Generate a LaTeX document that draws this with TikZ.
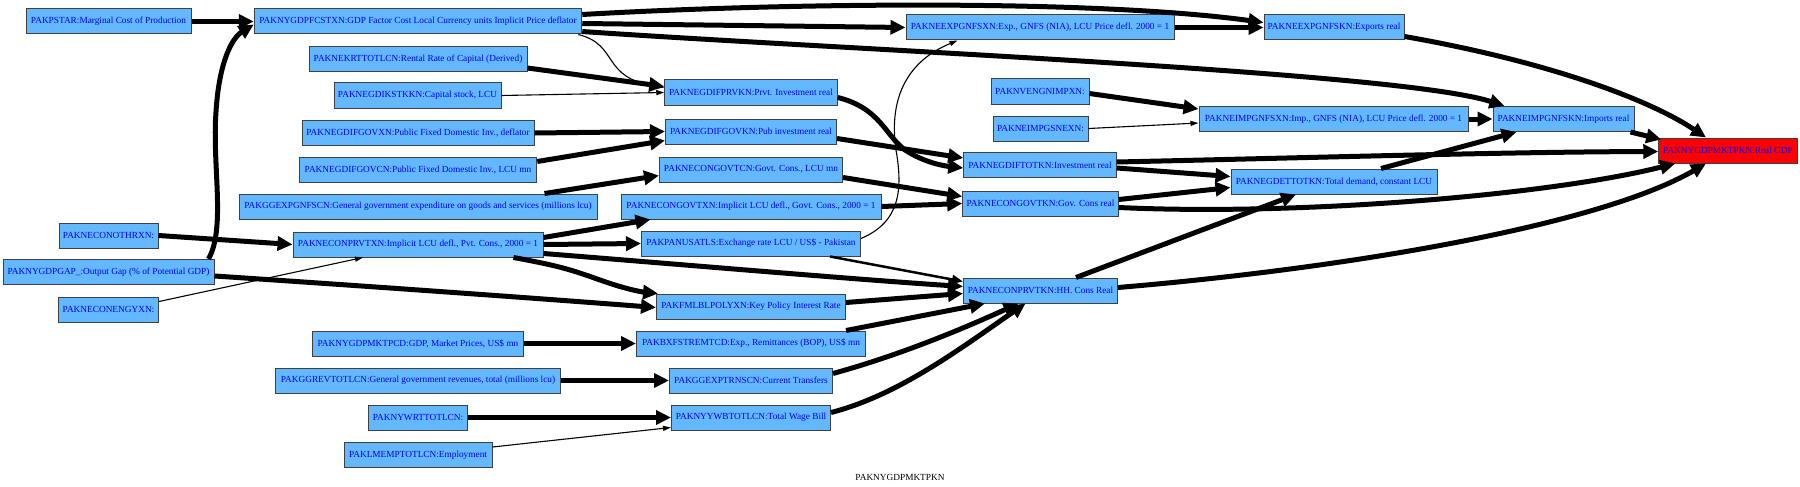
\documentclass[tikz,border=0pt]{standalone}
\usepackage{fontspec}
\setmainfont{Liberation Serif}
\usetikzlibrary{arrows.meta,calc}
\definecolor{nodeblue}{RGB}{99,184,255}
\begin{document}
\begin{tikzpicture}[x=1pt,y=-1pt,
  box/.style={rectangle,draw=black!75,line width=1pt,fill=nodeblue,text=blue,inner sep=0pt,minimum height=25pt,font=\fontsize{9.3}{11}\selectfont},
  redbox/.style={box,fill=red},
  thickarrow/.style={line width=5pt,-{Triangle[length=15pt,width=14pt]}},
  midarrow/.style={line width=2.5pt,-{Triangle[length=11pt,width=9pt]}},
  thinarrow/.style={line width=1.1pt,-{Triangle[length=8pt,width=5pt]}}]
\useasboundingbox (0,0) rectangle (1800,487);
% column 1
\node[box,minimum width=165pt] (pstar) at (108.5,21.5) {PAKPSTAR:Marginal Cost of Production};
\node[box,minimum width=99pt] (othr) at (108.5,235.5) {PAKNECONOTHRXN:};
\node[box,minimum width=211pt] (gap) at (108.5,272) {PAKNYGDPGAP\_:Output Gap (\% of Potential GDP)};
\node[box,minimum width=100pt] (engy) at (108.5,309.5) {PAKNECONENGYXN:};
% column 2
\node[box,minimum width=327.5pt] (fcstxn) at (418,21.5) {PAKNYGDPFCSTXN:GDP Factor Cost Local Currency units Implicit Price deflator};
\node[box,minimum width=218pt] (krt) at (418,59) {PAKNEKRTTOTLCN:Rental Rate of Capital (Derived)};
\node[box,minimum width=167pt] (kst) at (417.5,95.5) {PAKNEGDIKSTKKN:Capital stock, LCU};
\node[box,minimum width=232pt] (fgovxn) at (418,133) {PAKNEGDIFGOVXN:Public Fixed Domestic Inv., deflator};
\node[box,minimum width=237.5pt] (fgovcn) at (418,169.5) {PAKNEGDIFGOVCN:Public Fixed Domestic Inv., LCU mn};
\node[box,minimum width=358pt] (ggexp) at (418,206.5) {PAKGGEXPGNFSCN:General government expenditure on goods and services (millions lcu)};
\node[box,minimum width=250pt] (prvtxn) at (418,244.5) {PAKNECONPRVTXN:Implicit LCU defl., Pvt. Cons., 2000 = 1};
\node[box,minimum width=211pt] (mktpcd) at (418,343.5) {PAKNYGDPMKTPCD:GDP, Market Prices, US\$ mn};
\node[box,minimum width=284.5pt] (ggrev) at (418,380.5) {PAKGGREVTOTLCN:General government revenues, total (millions lcu)};
\node[box,minimum width=99pt] (wrt) at (418,417.5) {PAKNYWRTTOTLCN:};
\node[box,minimum width=148pt] (emp) at (418,455) {PAKLMEMPTOTLCN:Employment};
% column 3
\node[box,minimum width=172.5pt] (prvkn) at (751,92.5) {PAKNEGDIFPRVKN:Prvt. Investment real};
\node[box,minimum width=171pt] (govkn) at (751,131.5) {PAKNEGDIFGOVKN:Pub investment real};
\node[box,minimum width=183pt] (govtcn) at (751,169.5) {PAKNECONGOVTCN:Govt. Cons., LCU mn};
\node[box,minimum width=260pt] (govtxn) at (751,206.5) {PAKNECONGOVTXN:Implicit LCU defl., Govt. Cons., 2000 = 1};
\node[box,minimum width=219pt] (panus) at (751,243.5) {PAKPANUSATLS:Exchange rate LCU / US\$ - Pakistan};
\node[box,minimum width=189pt] (fml) at (751,306.5) {PAKFMLBLPOLYXN:Key Policy Interest Rate};
\node[box,minimum width=229pt] (bxf) at (751,343.5) {PAKBXFSTREMTCD:Exp., Remittances (BOP), US\$ mn};
\node[box,minimum width=163pt] (ggtr) at (751,380.5) {PAKGGEXPTRNSCN:Current Transfers};
\node[box,minimum width=159pt] (wb) at (751,417.5) {PAKNYYWBTOTLCN:Total Wage Bill};
% column 4
\node[box,minimum width=268pt] (exxn) at (1040,27.5) {PAKNEEXPGNFSXN:Exp., GNFS (NIA), LCU Price defl. 2000 = 1};
\node[box,minimum width=98pt] (veng) at (1040,91.5) {PAKNVENGNIMPXN:};
\node[box,minimum width=95pt] (imsne) at (1040.5,128.5) {PAKNEIMPGSNEXN:};
\node[box,minimum width=152.5pt] (fdtot) at (1040,165) {PAKNEGDIFTOTKN:Investment real};
\node[box,minimum width=155.5pt] (cgovkn) at (1040.5,203.5) {PAKNECONGOVTKN:Gov. Cons real};
\node[box,minimum width=154pt] (hhkn) at (1040.5,290.5) {PAKNECONPRVTKN:HH. Cons Real};
% column 5
\node[box,minimum width=140pt] (exkn) at (1334,27.5) {PAKNEEXPGNFSKN:Exports real};
\node[box,minimum width=269pt] (imxn) at (1333.5,119) {PAKNEIMPGNFSXN:Imp., GNFS (NIA), LCU Price defl. 2000 = 1};
\node[box,minimum width=206pt] (dettot) at (1334,181.5) {PAKNEGDETTOTKN:Total demand, constant LCU};
% column 6, 7
\node[box,minimum width=141pt] (imkn) at (1563.5,119) {PAKNEIMPGNFSKN:Imports real};
\node[redbox,minimum width=138.5pt] (gdp) at (1728,150.5) {PAKNYGDPMKTPKN:Real GDP};
\node[font=\fontsize{9.3}{11}\selectfont] (lbl) at (900,477) {PAKNYGDPMKTPKN};
% edges
\draw[thickarrow] (pstar.east) -- (fcstxn.west);
\draw[thickarrow] ($(gap.north east)+(-6,0)$) .. controls (226,228) and (212,165) .. (216,112) .. controls (219,62) and (232,38) .. ($(fcstxn.west)+(0,3)$);
\draw[thickarrow] ($(gap.east)+(0,4)$) .. controls (350,285) and (520,297) .. ($(fml.west)+(0,1)$);
\draw[thickarrow] (othr.east) -- (prvtxn.west);
\draw[thinarrow] ($(engy.east)+(0,-8)$) -- ($(prvtxn.south)+(-55,0)$);
\draw[thickarrow] ($(fcstxn.east)+(0,-7)$) .. controls (800,2) and (1100,0) .. ($(exkn.west)+(0,-5)$);
\draw[thickarrow] ($(fcstxn.east)+(0,2)$) -- (exxn.west);
\draw[thickarrow] ($(fcstxn.east)+(0,10)$) .. controls (850,50) and (1400,72) .. ($(imkn.north west)+(12,0)$);
\draw[thinarrow] ($(fcstxn.south east)+(-4,0)$) .. controls (620,45) and (600,78) .. ($(prvkn.west)+(0,-5)$);
\draw[thickarrow] ($(krt.east)+(0,9)$) -- ($(prvkn.west)+(0,-6)$);
\draw[thinarrow] (kst.east) -- (prvkn.west);
\draw[thickarrow] (fgovxn.east) -- (govkn.west);
\draw[thickarrow] ($(fgovcn.east)+(0,-8)$) -- ($(govkn.west)+(0,9)$);
\draw[thickarrow] ($(ggexp.north east)+(-53,0)$) -- ($(govtcn.west)+(0,6)$);
\draw[thickarrow] ($(prvtxn.east)+(0,-7)$) -- ($(govtxn.south west)+(30,0)$);
\draw[thickarrow] (prvtxn.east) -- (panus.west);
\draw[thickarrow] ($(prvtxn.east)+(0,9)$) .. controls (700,266) and (850,279) .. ($(hhkn.west)+(0,-4)$);
\draw[thickarrow] ($(prvtxn.south east)+(-30,0)$) .. controls (560,266) and (572,270) .. (600,280) .. controls (625,289) and (642,292) .. ($(fml.north west)+(2,0)$);
\draw[thickarrow] ($(govtcn.east)+(0,8)$) -- ($(cgovkn.west)+(0,-7)$);
\draw[thickarrow] (govtxn.east) -- (cgovkn.west);
\draw[thinarrow] ($(panus.east)+(0,-5)$) .. controls (900,222) and (903,190) .. (896,150) .. controls (888,95) and (910,60) .. ($(exxn.south west)+(52,0)$);
\draw[midarrow] ($(panus.south east)+(-31,0)$) -- ($(hhkn.north west)+(0,4)$);
\draw[thickarrow] ($(fml.east)+(0,-4)$) -- ($(hhkn.west)+(0,3)$);
\draw[thickarrow] ($(bxf.north east)+(-20,0)$) -- ($(hhkn.south west)+(22,0)$);
\draw[thickarrow] ($(ggtr.east)+(0,-7)$) .. controls (900,355) and (960,330) .. ($(hhkn.south)+(-22,0)$);
\draw[thickarrow] ($(wb.east)+(0,-5)$) .. controls (900,395) and (965,345) .. ($(hhkn.south)+(-15,0)$);
\draw[thickarrow] (mktpcd.east) -- (bxf.west);
\draw[thickarrow] (ggrev.east) -- (ggtr.west);
\draw[thickarrow] (wrt.east) -- (wb.west);
\draw[thinarrow] ($(emp.east)+(0,-8)$) -- ($(wb.west)+(0,10)$);
\draw[thickarrow] ($(prvkn.east)+(0,5)$) .. controls (880,108) and (885,135) .. (905,150) .. controls (925,163) and (945,166) .. ($(fdtot.west)+(0,3)$);
\draw[thickarrow] ($(govkn.east)+(0,7)$) -- ($(fdtot.west)+(0,-7)$);
\draw[thickarrow] (exxn.east) -- (exkn.west);
\draw[thickarrow] ($(veng.east)+(0,2)$) -- ($(imxn.west)+(0,-10)$);
\draw[thinarrow] (imsne.east) -- ($(imxn.west)+(0,4)$);
\draw[thickarrow] (imxn.east) -- (imkn.west);
\draw[thickarrow] ($(fdtot.east)+(0,-3)$) .. controls (1300,158) and (1500,152) .. ($(gdp.west)+(0,1)$);
\draw[thickarrow] ($(fdtot.east)+(0,3)$) -- ($(dettot.west)+(0,-5)$);
\draw[thickarrow] ($(cgovkn.east)+(0,-4)$) -- ($(dettot.west)+(0,6)$);
\draw[thickarrow] ($(cgovkn.east)+(0,4)$) .. controls (1300,216) and (1550,195) .. ($(gdp.south west)+(17,0)$);
\draw[thickarrow] ($(hhkn.north east)+(-42,0)$) -- ($(dettot.south)+(-38,0)$);
\draw[thickarrow] ($(hhkn.east)+(0,-3)$) .. controls (1350,268) and (1600,225) .. ($(gdp.south)+(-22,0)$);
\draw[thickarrow] ($(dettot.north)+(47,0)$) -- ($(imkn.south)+(-47,0)$);
\draw[thickarrow] ($(exkn.east)+(0,9)$) .. controls (1550,62) and (1650,100) .. ($(gdp.north)+(-22,0)$);
\draw[thickarrow] ($(imkn.south east)+(-4,0)$) -- ($(gdp.north west)+(3,2)$);
\end{tikzpicture}
\end{document}
